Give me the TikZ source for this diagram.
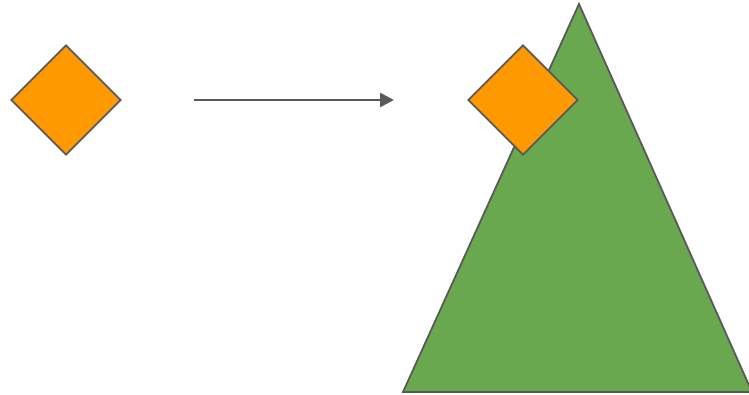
\documentclass[tikz,border=0pt]{standalone}
\usetikzlibrary{shapes.geometric,arrows.meta}
\definecolor{stroke}{HTML}{595959}
\definecolor{orng}{HTML}{FF9900}
\definecolor{grn}{HTML}{6AA84F}
\tikzset{
  gem/.style={shape=diamond, draw=stroke, fill=orng, line width=1.8pt, inner sep=0pt, minimum width=110pt, minimum height=110pt},
  tree/.style={draw=stroke, fill=grn, line width=1.8pt, line join=miter},
  link/.style={draw=stroke, line width=2.6pt, -{Triangle[length=14pt,width=14pt]}}
}
\begin{document}
\begin{tikzpicture}[x=1pt,y=-1pt]
\useasboundingbox (0,0) rectangle (749,395);
\node[gem] (d1) at (66,100) {};
\coordinate (a1) at (194,100);
\coordinate (a2) at (394,100);
\draw[link] (a1) -- (a2);
\coordinate (t1) at (579,4);
\coordinate (t2) at (403,392);
\coordinate (t3) at (752,392);
\draw[tree] (t1) -- (t2) -- (t3) -- cycle;
\node[gem] (d2) at (523,100) {};
\end{tikzpicture}
\end{document}
